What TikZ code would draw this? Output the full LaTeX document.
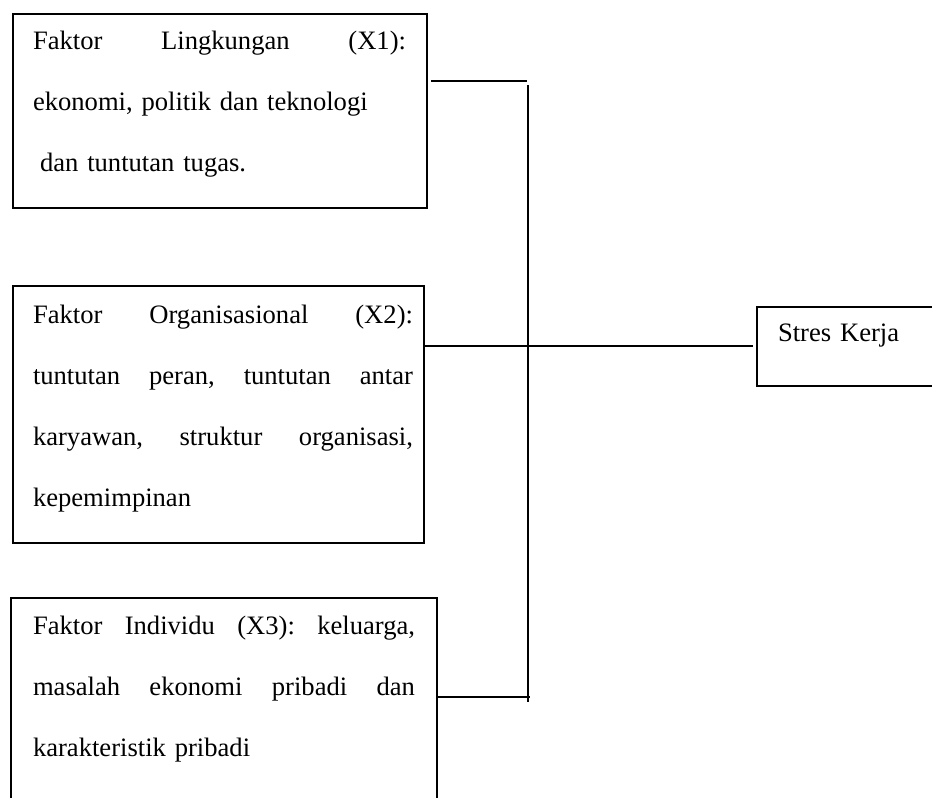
\documentclass[tikz,border=0pt]{standalone}
\usepackage{fontspec}
\setmainfont{Liberation Serif}

\tikzset{kotak/.style={draw,line width=2pt,anchor=north west,inner sep=0pt,align=left,font=\fontsize{26.6pt}{61pt}\selectfont}}
\tikzset{garis/.style={line width=2pt}}

\begin{document}
\begin{tikzpicture}[x=1pt,y=-1pt]
        \path[use as bounding box,clip] (0,0) rectangle (932,798);
        \node[kotak,text width=414pt] (lingkungan) at (12,13) {\leftskip=20pt\rightskip=21pt plus 1fil\relax
            \rule{0pt}{35pt}Faktor\hfill Lingkungan\hfill (X1):\\
            ekonomi, politik dan teknologi\\
            \hspace*{7pt}dan tuntutan tugas.\rule[-37pt]{0pt}{37pt}\par};
        \node[kotak,text width=411pt] (organisasi) at (12,285) {\leftskip=20pt\rightskip=11pt plus 1fil\relax
            \rule{0pt}{37pt}Faktor\hfill Organisasional\hfill (X2):\\
            tuntutan\hfill peran,\hfill tuntutan\hfill antar\\
            karyawan,\hfill struktur\hfill organisasi,\\
            kepemimpinan\rule[-37pt]{0pt}{37pt}\par};
        \node[kotak,text width=426pt] (individu) at (10,597) {\leftskip=22pt\rightskip=22pt plus 1fil\relax
            \rule{0pt}{36pt}Faktor\hfill Individu\hfill (X3):\hfill keluarga,\\
            masalah\hfill ekonomi\hfill pribadi\hfill dan\\
            karakteristik pribadi\rule[-60pt]{0pt}{60pt}\par};
        \node[kotak,text width=200pt] (stres) at (756,305.5) {\leftskip=21pt\relax
            \rule{0pt}{35pt}Stres Kerja\rule[-44pt]{0pt}{44pt}\par};
        \coordinate (ujungA) at (527,81);
        \coordinate (atas) at (528,85);
        \coordinate (bawah) at (528,702);
        \coordinate (ujungC) at (530,697);
        \draw[garis] ([xshift=3pt]lingkungan.east |- ujungA) -- (ujungA);
        \draw[garis] (atas) -- (bawah);
        \draw[garis] (organisasi.east |- stres.west) -- ([xshift=-3pt]stres.west);
        \draw[garis] (individu.east |- ujungC) -- (ujungC);
    \end{tikzpicture}
\end{document}
